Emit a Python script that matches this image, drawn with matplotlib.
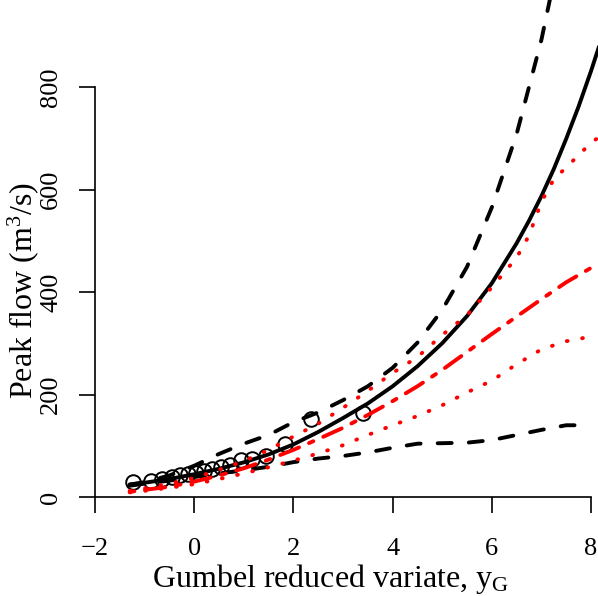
import matplotlib
matplotlib.use("Agg")
import matplotlib.pyplot as plt

plt.rcParams['font.family'] = ['Liberation Serif', 'DejaVu Serif']
plt.rcParams['mathtext.fontset'] = 'custom'
plt.rcParams['mathtext.rm'] = 'Liberation Serif'
plt.rcParams['mathtext.it'] = 'Liberation Serif:italic'

# ---- data ----
# observed annual peaks vs Gumbel reduced variate
obs_y = [-1.23, -0.874, -0.642, -0.452, -0.280, -0.117, 0.042, 0.202, 0.367,
         0.540, 0.727, 0.935, 1.172, 1.456, 1.821, 2.349, 3.404]
obs_q = [29, 31, 36, 40, 42, 44, 47, 51, 54, 58, 62, 73, 75, 80, 103, 152, 164]

# fitted curve (solid black)
fit_x = [-1.3, -1.0, -0.5, 0.0, 0.5, 1.0, 1.5, 2.0, 2.5, 3.0, 3.5, 4.0, 4.5,
         5.0, 5.5, 6.0, 6.5, 6.75, 7.0, 7.25, 7.5, 7.75, 8.0, 8.3]
fit_q = [24.5, 27.8, 35.1, 44.4, 55.0, 67.6, 83.1, 102.6, 126.9, 154, 182.5,
         216, 255, 300, 353, 417, 495, 539, 587, 640, 699, 762, 831, 920]

# confidence limits (black dashed)
up_x = [-1.3, -1.0, -0.5, 0.0, 0.5, 1.0, 1.5, 2.0, 2.5, 3.0, 3.5, 4.0, 4.5,
        5.0, 5.5, 6.0, 6.5, 7.0, 7.3]
up_q = [24, 29, 42, 61, 84, 104, 121, 146, 165, 189, 216, 252, 301, 365, 449,
        565, 708, 892, 1030]
lo_x = [-1.3, -1.0, -0.5, 0.0, 0.5, 1.0, 1.5, 2.0, 2.5, 3.0, 3.5, 4.0, 4.5,
        5.0, 5.5, 6.0, 6.5, 7.0, 7.5, 8.0]
lo_q = [22, 26, 32, 39, 46, 52, 59, 68, 75, 80, 87, 96, 104, 105, 106, 111,
        121, 131, 140, 140]

# red central curve (two-dash) and red dotted limits
red_x = [-1.3, -1.0, -0.5, 0.0, 0.5, 1.0, 1.5, 2.0, 2.5, 3.0, 3.5, 4.0, 4.5,
         5.0, 5.5, 6.0, 6.5, 7.0, 7.5, 8.0, 8.3]
red_q = [10, 14, 20, 30, 42, 56, 73, 92, 113, 135, 160, 187, 216, 248, 283,
         318, 352, 386, 419, 447, 463]
rup_x = [-1.3, -1.0, -0.5, 0.0, 0.5, 1.0, 1.5, 2.0, 2.5, 3.0, 3.5, 4.0, 4.5,
         5.0, 5.5, 6.0, 6.5, 6.75, 7.0, 7.25, 7.5, 8.0, 8.2]
rup_q = [12, 17, 26, 37, 53, 70, 92, 118, 143, 174, 207, 242, 273, 316, 355,
         409, 467, 510, 576, 620, 643, 691, 705]
rlo_x = [-1.3, -1.0, -0.5, 0.0, 0.5, 1.0, 1.5, 2.0, 2.5, 3.0, 3.5, 4.0, 4.5,
         5.0, 5.5, 6.0, 6.5, 7.0, 7.5, 8.0]
rlo_q = [9, 12, 18, 25, 35, 46, 58, 71, 85, 101, 121, 140, 158, 179, 204, 227,
         259, 288, 304, 313]

x_ticks = [-2, 0, 2, 4, 6, 8]
y_ticks = [0, 200, 400, 600, 800]
x_label = r'Gumbel reduced variate, $\mathrm{y_G}$'
y_label = r'Peak flow (m$^3$/s)'

# ---- figure ----
W, H = 598, 596
fig = plt.figure(figsize=(W / 100, H / 100), dpi=100)
ax = fig.add_axes([0, 0, 1, 1])
ax.patch.set_alpha(0)

# pixel mapping of the R plot region
px_xm2, px_x8 = 95, 591
py_y0, py_y800 = 497, 87
sx = (px_x8 - px_xm2) / 10.0
sy = (py_y0 - py_y800) / 800.0
ax.set_xlim(-2 - px_xm2 / sx, -2 + (W - px_xm2) / sx)
ax.set_ylim(-(H - py_y0) / sy, py_y0 / sy)

lw = 2.8
ax.plot(obs_y, obs_q, linestyle='none', marker='o', markersize=10.5,
        markerfacecolor='none', markeredgecolor='black', markeredgewidth=1.4,
        zorder=3)
ax.plot(fit_x, fit_q, color='black', lw=lw, solid_capstyle='round',
        solid_joinstyle='round', zorder=4)
for xs, qs in ((up_x, up_q), (lo_x, lo_q)):
    ax.plot(xs, qs, color='black', lw=lw, dashes=(3.6, 4.4),
            dash_capstyle='round', zorder=4)
ax.plot(red_x, red_q, color='red', lw=lw, dashes=(1.2, 2.8, 5.2, 2.8),
        dash_capstyle='round', zorder=4)
for xs, qs in ((rup_x, rup_q), (rlo_x, rlo_q)):
    ax.plot(xs, qs, color='red', lw=lw, dashes=(0.2, 3.8),
            dash_capstyle='round', zorder=4)

for s in ('top', 'right'):
    ax.spines[s].set_visible(False)
ax.spines['left'].set_position(('data', -2))
ax.spines['left'].set_bounds(0, 800)
ax.spines['bottom'].set_position(('data', 0))
ax.spines['bottom'].set_bounds(-2, 8)
for s in ('left', 'bottom'):
    ax.spines[s].set_linewidth(1.2)
    ax.spines[s].set_zorder(2)

ax.set_xticks(x_ticks)
ax.set_yticks(y_ticks)
ax.tick_params(axis='both', direction='out', length=11.5, width=1.2,
               labelsize=19)
ax.tick_params(axis='x', pad=18)
ax.tick_params(axis='y', pad=12, labelrotation=90)
for lab in ax.get_yticklabels():
    lab.set_va('center')

fig.text(331 / W, 1 - 587 / H, x_label, ha='center', va='baseline',
         fontsize=23)
fig.text(23 / W, 1 - 290 / H, y_label, ha='center', va='center',
         rotation=90, fontsize=23)

fig.savefig('out.png', dpi=100)
